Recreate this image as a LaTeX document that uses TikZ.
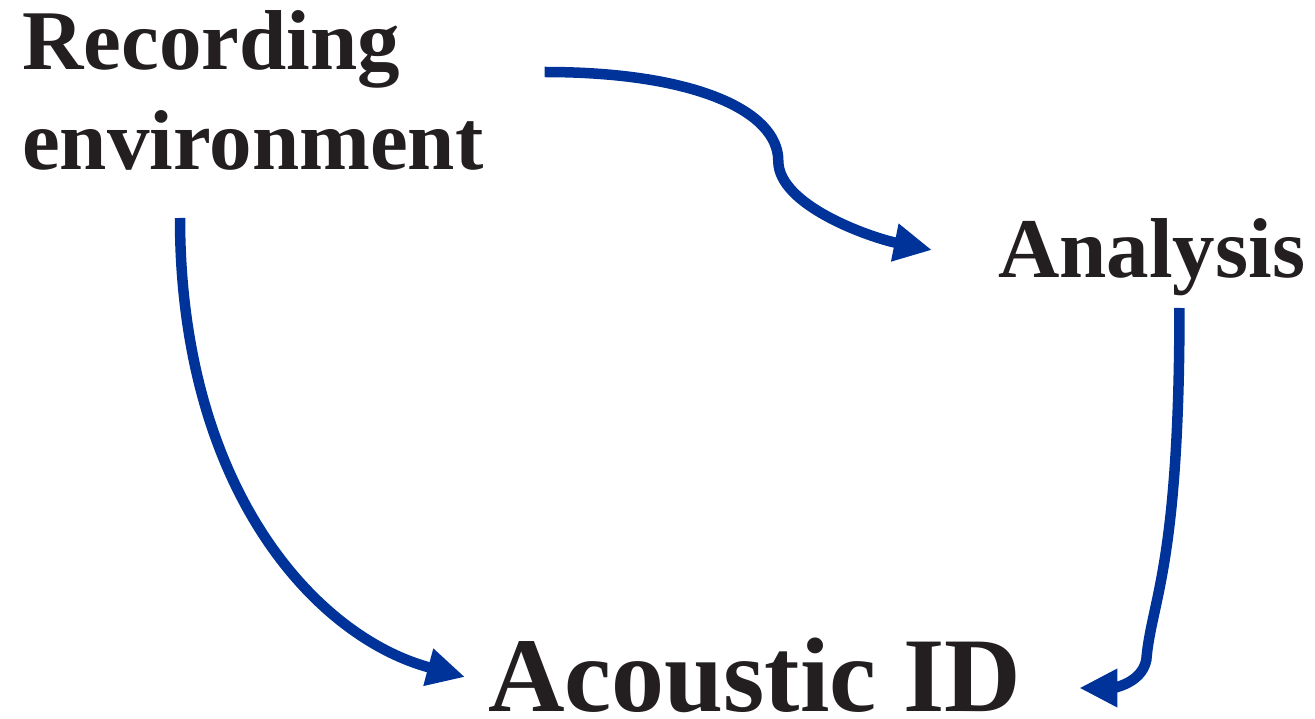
\documentclass[tikz,border=0pt]{standalone}
\usepackage{fontspec}
\setmainfont{Liberation Serif}
\usetikzlibrary{calc,arrows.meta}
\definecolor{inkgray}{RGB}{35,31,32}
\definecolor{arrowblue}{RGB}{0,51,153}
\tikzset{
    label/.style = {inner sep=0pt, anchor=base west, text=inkgray, font=\bfseries\fontsize{85}{100}\selectfont, align=left},
    biglabel/.style = {label, font=\bfseries\fontsize{106}{120}\selectfont},
    flow/.style = {draw=arrowblue, line width=10.5pt, -{Triangle[length=38pt,width=36pt]}}
}
\begin{document}
\begin{tikzpicture}[x=1pt,y=-1pt]
    \useasboundingbox (0,0) rectangle (1315,719);
    \node [label] (rec) at (22,170) {Recording\\environment};
    \node [label] (ana) at (998,278) {Analysis};
    \node [biglabel] (aid) at (488,711) {Acoustic ID};
    % connector ends
    \coordinate (rec-out1) at ($(rec.base east)+(61,-98)$);
    \coordinate (rec-out2) at ($(rec.base west)+(158,48)$);
    \coordinate (ana-in) at ($(ana.base west)+(-66,-28)$);
    \coordinate (ana-out) at ($(ana.base east)+(-126,30)$);
    \coordinate (aid-in1) at ($(aid.base west)+(-23,-34)$);
    \coordinate (aid-in2) at ($(aid.base east)+(58,-23)$);
    \draw [flow] (rec-out1) .. controls +(150,0) and +(0,-50) .. ($(rec-out1)!0.5!(ana-in)+(40,0)$)
        .. controls +(0,45) and +(-60,-12) .. (ana-in);
    \draw [flow] (rec-out2) .. controls +(0,270) and +(-150,-40) .. (aid-in1);
    \draw [flow] (ana-out) .. controls +(0,260) and +(5,-60) .. ($(aid-in2)+(67,-28)$)
        .. controls +(-5,25) and +(30,0) .. (aid-in2);
\end{tikzpicture}
\end{document}
